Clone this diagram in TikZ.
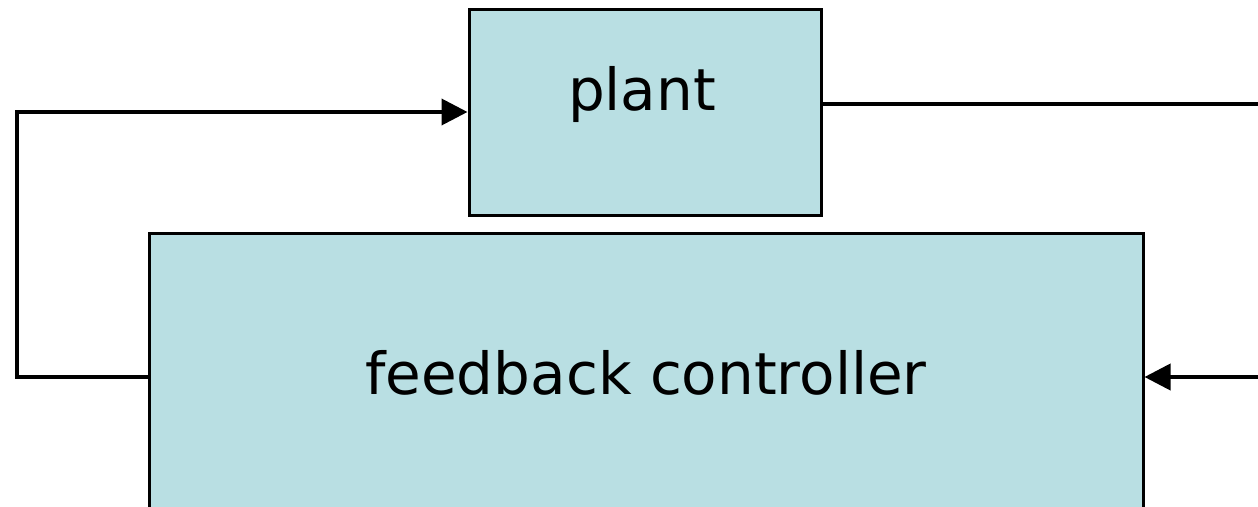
\documentclass[tikz,border=0pt]{standalone}
\usepackage{fontspec}
\setmainfont{DejaVu Sans}
\usetikzlibrary{arrows.meta,positioning}
\definecolor{boxfill}{RGB}{185,223,227}
\tikzset{
 fb box/.style={draw=black,fill=boxfill,line width=3pt,inner sep=0pt},
 fb text/.style={font=\fontsize{58}{68}\selectfont},
 fb line/.style={line width=3.8pt},
 fb arrow/.style={fb line,-{Triangle[length=26pt,width=26pt]}}
}
\begin{document}
\begin{tikzpicture}[x=1pt,y=-1pt]
 \useasboundingbox (0,0) rectangle (1258,506);
 \clip (0,0) rectangle (1258,506);

 \node[fb box,minimum width=352pt,minimum height=206pt,
       label={[fb text,xshift=-3pt,yshift=18pt]center:plant}]
       (plant) at (645,112) {};
 \node[fb box,minimum width=994pt,minimum height=288pt,
       label={[fb text,yshift=4pt]center:feedback controller}]
       (ctrl) at (646,377) {};

 \coordinate (lx) at (17,0);
 \coordinate (out) at (1258,104);
 \coordinate (in) at (1258,377);

 \draw[fb arrow] (ctrl.west) -- (ctrl.west -| lx) |- (plant.west);
 \draw[fb line] (plant.east |- out) -- (out);
 \draw[fb arrow] (in) -- (ctrl.east);
\end{tikzpicture}
\end{document}
